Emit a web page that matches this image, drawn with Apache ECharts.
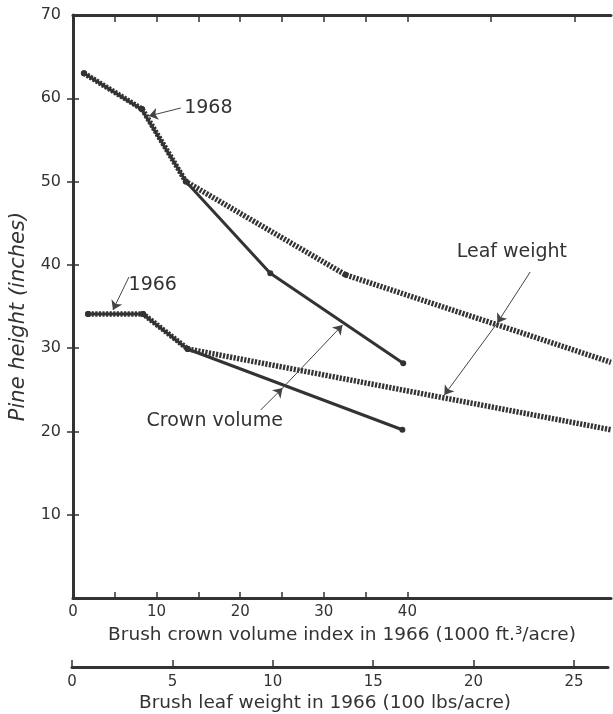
<!DOCTYPE html>
<html>
<head>
<meta charset="utf-8">
<script src="https://cdn.jsdelivr.net/npm/echarts@6/dist/echarts.min.js"></script>
<style>
html,body{margin:0;padding:0;background:#fff;}
#c{width:613px;height:714px;}
</style>
</head>
<body>
<div id="c"></div>
<script>
// ---- data ----
// 1968 pine height vs brush crown volume index (1000 ft^3/acre)
const crown1968X = [1.3, 8.2, 13.5, 23.6, 39.5];
const crown1968Y = [63.0, 58.7, 50.0, 39.0, 28.2];
// 1968 pine height vs brush leaf weight (100 lbs/acre)
const leaf1968X = [0.55, 3.45, 5.63, 13.6, 26.84];
const leaf1968Y = [63.0, 58.7, 50.0, 38.8, 28.3];
// 1966 pine height vs crown volume
const crown1966X = [1.8, 8.35, 13.7, 39.4];
const crown1966Y = [34.1, 34.1, 29.9, 20.2];
// 1966 pine height vs leaf weight
const leaf1966X = [0.75, 3.5, 5.73, 26.84];
const leaf1966Y = [34.1, 34.1, 29.9, 20.2];

// tick labels
const crownLabels = [0, 10, 20, 30, 40];
const crownTicks = [5, 10, 15, 20, 25, 30, 35, 40];
const topTicks = [5, 10, 15, 20, 25, 30, 35, 40, 50, 60];
const leafLabels = [0, 5, 10, 15, 20, 25];
const yLabels = [10, 20, 30, 40, 50, 60, 70];
const rightTicks = [10, 20, 30, 40, 50, 60];

const INK = '#333333';
const FONT = 'DejaVu Sans';
const pair = (xs, ys) => xs.map((x, i) => [x, ys[i]]);

const chart = echarts.init(document.getElementById('c'), null, {renderer: 'canvas'});

const solidLine = (name, xs, ys, extra) => Object.assign({
  name, type: 'line', xAxisIndex: 0, yAxisIndex: 0,
  data: pair(xs, ys),
  symbol: 'circle', symbolSize: 6,
  itemStyle: {color: INK},
  lineStyle: {color: INK, width: 3},
  z: 3
}, extra || {});

const dottedLine = (name, xs, ys) => ({
  name, type: 'line', xAxisIndex: 1, yAxisIndex: 0,
  data: pair(xs, ys),
  symbol: 'circle',
  symbolSize: (v, p) => (p.dataIndex === xs.length - 1 ? 0 : 6),
  itemStyle: {color: INK},
  lineStyle: {color: INK, width: 5.5, type: [2.2, 1.4], cap: 'butt'},
  z: 4
});

const arrowStyle = {color: '#444', width: 1, type: 'solid'};
const seg = (a, b) => [{coord: a, symbol: 'none'}, {coord: b, symbol: 'arrow', symbolSize: 9}];

const textPt = (txt, coord) => ({
  coord, symbol: 'circle', symbolSize: 0, value: txt,
  label: {show: true, position: 'right', distance: 0, formatter: txt,
          color: '#333', fontFamily: FONT, fontSize: 19}
});

chart.setOption({
  animation: false,
  backgroundColor: '#fff',
  grid: [
    {left: 72, top: 15, width: 539, height: 583},
    {left: 72, top: 620, width: 536, height: 47}
  ],
  xAxis: [
    { // crown volume, bottom of main grid
      type: 'value', gridIndex: 0, position: 'bottom', min: 0, max: 539 / 8.375,
      axisLine: {show: true, onZero: false, lineStyle: {color: INK, width: 3}},
      axisTick: {show: true, inside: true, length: 6, customValues: crownTicks, lineStyle: {color: INK, width: 1.5}},
      axisLabel: {show: true, customValues: crownLabels, margin: 7, color: '#333', fontFamily: FONT, fontSize: 15},
      splitLine: {show: false},
      name: 'Brush crown volume index in 1966 (1000 ft.³/acre)',
      nameLocation: 'middle', nameGap: 28,
      nameTextStyle: {color: '#333', fontFamily: FONT, fontSize: 18.5}
    },
    { // leaf weight scale used by dotted series (hidden)
      type: 'value', gridIndex: 0, position: 'bottom', min: 0, max: 539 / 20.08, show: false
    },
    { // top frame
      type: 'value', gridIndex: 0, position: 'top', min: 0, max: 539 / 8.375,
      axisLine: {show: true, onZero: false, lineStyle: {color: INK, width: 3}},
      axisTick: {show: true, inside: true, length: 7, customValues: topTicks, lineStyle: {color: INK, width: 1.5}},
      axisLabel: {show: false}, splitLine: {show: false}
    },
    { // separate leaf weight axis
      type: 'value', gridIndex: 1, position: 'bottom', min: 0, max: 536 / 20.08,
      axisLine: {show: true, onZero: false, lineStyle: {color: INK, width: 3}},
      axisTick: {show: true, inside: true, length: 7, customValues: leafLabels, lineStyle: {color: INK, width: 1.5}},
      axisLabel: {show: true, customValues: leafLabels, margin: 8, color: '#333', fontFamily: FONT, fontSize: 15},
      splitLine: {show: false},
      name: 'Brush leaf weight in 1966 (100 lbs/acre)',
      nameLocation: 'middle', nameGap: 27,
      nameTextStyle: {color: '#333', fontFamily: FONT, fontSize: 18.5, padding: [0, 30, 0, 0]}
    }
  ],
  yAxis: [
    {
      type: 'value', gridIndex: 0, position: 'left', min: 0, max: 70, interval: 10,
      axisLine: {show: true, lineStyle: {color: INK, width: 3}},
      axisTick: {show: true, inside: true, length: 6, customValues: yLabels, lineStyle: {color: INK, width: 1.5}},
      axisLabel: {show: true, customValues: yLabels, margin: 12, color: '#333', fontFamily: FONT, fontSize: 16},
      splitLine: {show: false},
      name: 'Pine height (inches)', nameLocation: 'middle', nameGap: 44,
      nameTextStyle: {color: '#333', fontFamily: FONT, fontSize: 21, fontStyle: 'italic', padding: [0, 20, 0, 0]}
    },
    {
      type: 'value', gridIndex: 0, position: 'right', min: 0, max: 70, interval: 10,
      axisLine: {show: true, lineStyle: {color: INK, width: 2}},
      axisTick: {show: true, inside: true, length: 6, customValues: rightTicks, lineStyle: {color: INK, width: 1.5}},
      axisLabel: {show: false}, splitLine: {show: false}
    },
    {type: 'value', gridIndex: 1, show: false, min: 0, max: 1}
  ],
  series: [
    solidLine('Crown volume 1968', crown1968X, crown1968Y, {
      markPoint: {
        data: [
          textPt('1968', [13.3, 58.8]),
          textPt('1966', [6.65, 37.6]),
          textPt('Crown volume', [8.8, 21.3]),
          textPt('Leaf weight', [45.9, 41.5])
        ]
      },
      markLine: {
        silent: true,
        label: {show: false}, lineStyle: arrowStyle,
        data: [
          seg([12.9, 58.83], [9.07, 57.87]),
          seg([6.69, 38.54], [4.78, 34.58]),
          seg([22.45, 22.57], [25.07, 25.21]),
          seg([25.07, 25.21], [32.24, 32.78]),
          seg([54.69, 39.14], [50.75, 33.02]),
          seg([50.75, 33.02], [44.42, 24.37])
        ]
      }
    }),
    solidLine('Crown volume 1966', crown1966X, crown1966Y),
    dottedLine('Leaf weight 1968', leaf1968X, leaf1968Y),
    dottedLine('Leaf weight 1966', leaf1966X, leaf1966Y)
  ]
});
</script>
</body>
</html>
